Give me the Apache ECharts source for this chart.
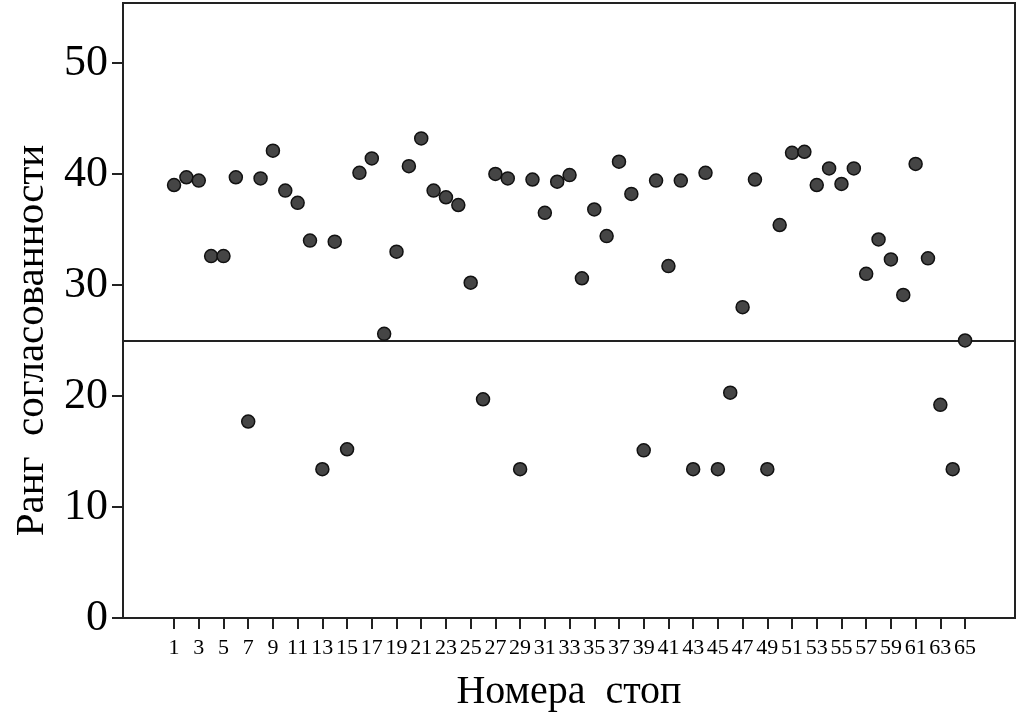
<!DOCTYPE html>
<html>
<head>
<meta charset="utf-8">
<style>
  html, body { margin: 0; padding: 0; background: #fff; }
  #chart { width: 1019px; height: 726px; }
</style>
<script src="https://cdn.jsdelivr.net/npm/echarts@6/dist/echarts.min.js"></script>
</head>
<body>
<div id="chart"></div>
<script>
// ранг согласованности для каждой стопы (стопа N = индекс + 1)
const rankValues = [
  39.0, 39.7, 39.4, 32.6, 32.6, 39.7, 17.7, 39.6, 42.1, 38.5,
  37.4, 34.0, 13.4, 33.9, 15.2, 40.1, 41.4, 25.6, 33.0, 40.7,
  43.2, 38.5, 37.9, 37.2, 30.2, 19.7, 40.0, 39.6, 13.4, 39.5,
  36.5, 39.3, 39.9, 30.6, 36.8, 34.4, 41.1, 38.2, 15.1, 39.4,
  31.7, 39.4, 13.4, 40.1, 13.4, 20.3, 28.0, 39.5, 13.4, 35.4,
  41.9, 42.0, 39.0, 40.5, 39.1, 40.5, 31.0, 34.1, 32.3, 29.1,
  40.9, 32.4, 19.2, 13.4, 25.0
]
const xTickValues = [1, 3, 5, 7, 9, 11, 13, 15, 17, 19, 21, 23, 25, 27, 29, 31, 33,
  35, 37, 39, 41, 43, 45, 47, 49, 51, 53, 55, 57, 59, 61, 63, 65]
const yTickValues = [0, 10, 20, 30, 40, 50]
const threshold = 25

const serif = '"Liberation Serif", "DejaVu Serif", serif'
const axisColor = '#222'

const points = rankValues.map((v, i) => [i + 1, v])

const chart = echarts.init(document.getElementById('chart'), null, { renderer: 'canvas' })
chart.setOption({
  animation: false,
  backgroundColor: '#fff',
  grid: {
    left: 123,
    right: 4,
    top: 3,
    bottom: 108,
    show: true,
    borderColor: axisColor,
    borderWidth: 2
  },
  xAxis: {
    type: 'value',
    min: -3.13,
    max: 69.04,
    name: 'Номера  стоп',
    nameLocation: 'middle',
    nameGap: 54,
    nameTextStyle: { fontFamily: serif, fontSize: 40, color: '#000' },
    axisLine: { show: true, onZero: false, lineStyle: { color: axisColor, width: 2 } },
    axisTick: {
      show: true,
      customValues: xTickValues,
      length: 11,
      lineStyle: { color: axisColor, width: 2 }
    },
    axisLabel: {
      customValues: xTickValues,
      fontFamily: serif,
      fontSize: 22,
      color: '#000',
      margin: 19,
      hideOverlap: false
    },
    splitLine: { show: false }
  },
  yAxis: {
    type: 'value',
    min: 0,
    max: 55.4,
    name: 'Ранг  согласованности',
    nameLocation: 'middle',
    nameGap: 70,
    nameTextStyle: { fontFamily: serif, fontSize: 41, color: '#000', padding: [0, 60, 0, 0] },
    axisLine: { show: true, onZero: false, lineStyle: { color: axisColor, width: 2 } },
    axisTick: {
      show: true,
      customValues: yTickValues,
      length: 11,
      lineStyle: { color: axisColor, width: 2 }
    },
    axisLabel: {
      customValues: yTickValues,
      fontFamily: serif,
      fontSize: 44,
      color: '#000',
      margin: 15
    },
    splitLine: { show: false }
  },
  series: [{
    type: 'scatter',
    data: points,
    symbol: 'circle',
    symbolSize: 13,
    z: 3,
    itemStyle: { color: '#454545', borderColor: '#111', borderWidth: 1.5, opacity: 1 },
    markLine: {
      silent: true,
      symbol: ['none', 'none'],
      label: { show: false },
      lineStyle: { color: axisColor, width: 2, type: 'solid' },
      z: 1,
      data: [{ yAxis: threshold }]
    }
  }]
})
</script>
</body>
</html>
